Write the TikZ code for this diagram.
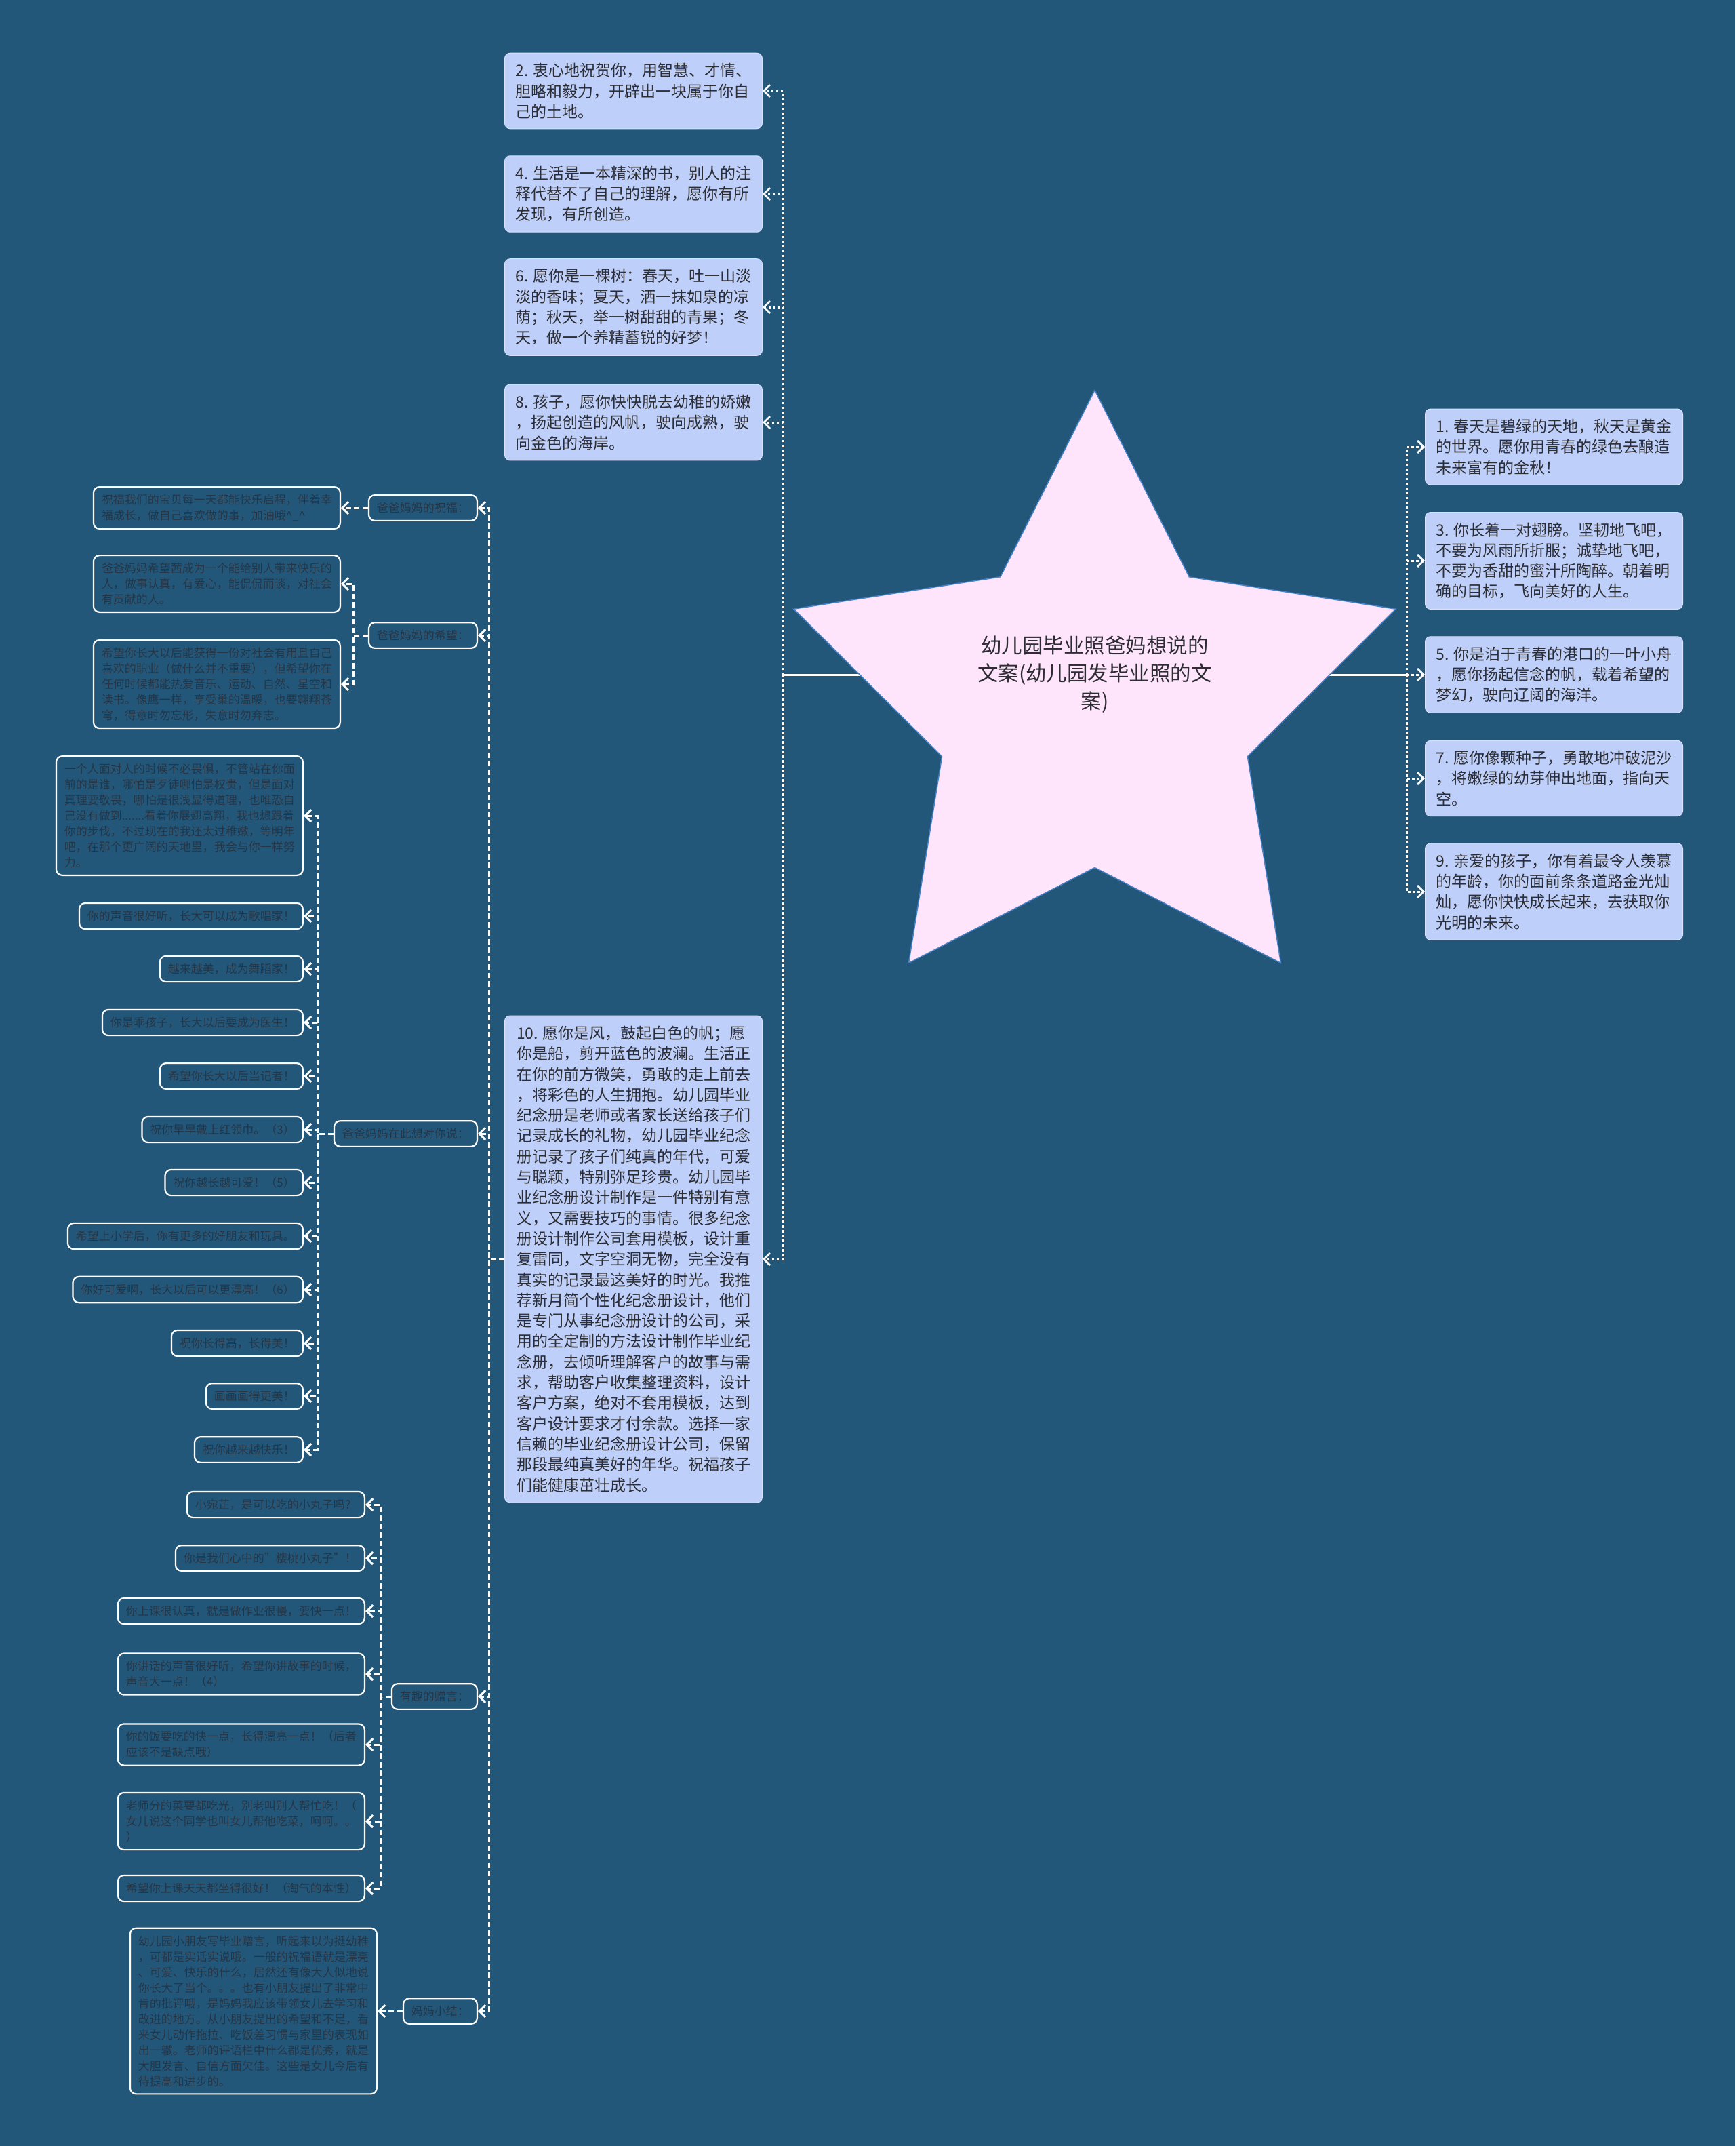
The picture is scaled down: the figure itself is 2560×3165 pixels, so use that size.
\documentclass[tikz,border=0pt]{standalone}
\usepackage{fontspec}
\setmainfont{Noto Sans CJK SC}
\usetikzlibrary{arrows.meta}
\definecolor{bg}{RGB}{35,87,122}
\definecolor{lfill}{RGB}{190,208,250}
\definecolor{ledge}{RGB}{215,226,252}
\definecolor{ltext}{RGB}{45,45,52}
\definecolor{dtext}{RGB}{38,54,70}
\definecolor{starfill}{RGB}{255,229,252}
\definecolor{staredge}{RGB}{70,130,200}
\pgfdeclarelayer{back}
\pgfsetlayers{back,main}
\begin{document}
\begin{tikzpicture}[x=1pt,y=-1pt,
  lbox/.style={draw=ledge, line width=1pt, fill=lfill, rounded corners=8pt,
    inner xsep=15pt, inner ysep=15pt, minimum width=380pt, align=left,
    text=ltext, font=\fontsize{23}{30.3}\selectfont},
  dbox/.style={draw=white, line width=2.2pt, fill=bg, rounded corners=9pt,
    inner xsep=12pt, inner ysep=11pt, align=left, text=dtext,
    font=\fontsize{17}{23}\selectfont},
  rootlbl/.style={align=center, text=ltext, font=\fontsize{30.5}{41}\selectfont},
  lev1/.style={draw=white, line width=3pt, dash pattern=on 3.5pt off 3.5pt,
    -{Straight Barb[length=9pt,width=18pt,line width=2.8pt]}},
  lev2/.style={draw=white, line width=3pt, dash pattern=on 8pt off 4.5pt,
    -{Straight Barb[length=9pt,width=18pt,line width=3pt]}},
  rootline/.style={draw=white, line width=3pt}
]
\useasboundingbox (0,0) rectangle (2560,3165);

% root
\node[rootlbl] (root) at (1615,995) {幼儿园毕业照爸妈想说的\\文案(幼儿园发毕业照的文\\案)};
\coordinate (jL) at (1155,995);
\coordinate (jR) at (2075,995);

\begin{pgfonlayer}{back}
  \fill[bg] (0,0) rectangle (2560,3165);
  \draw[rootline] (root.center) -- (jL);
  \draw[rootline] (root.center) -- (jR);
  \filldraw[fill=starfill, draw=staredge, line width=1.5pt]
    (1615,575.5) -- (1754.3,850.8) -- (2059.1,898.2) -- (1840.4,1115.7)
    -- (1889.5,1420.3) -- (1615,1279.5) -- (1340.5,1420.3) -- (1389.6,1115.7)
    -- (1170.9,898.2) -- (1475.7,850.8) -- cycle;
\end{pgfonlayer}

% top-middle column
\node[lbox,anchor=east] (b2) at (1125,134) {2. 衷心地祝贺你，用智慧、才情、\\胆略和毅力，开辟出一块属于你自\\己的土地。};
\node[lbox,anchor=east] (b4) at (1125,286) {4. 生活是一本精深的书，别人的注\\释代替不了自己的理解，愿你有所\\发现，有所创造。};
\node[lbox,anchor=east] (b6) at (1125,453) {6. 愿你是一棵树：春天，吐一山淡\\淡的香味；夏天，洒一抹如泉的凉\\荫；秋天，举一树甜甜的青果；冬\\天，做一个养精蓄锐的好梦！};
\node[lbox,anchor=east] (b8) at (1125,623) {8. 孩子，愿你快快脱去幼稚的娇嫩\\，扬起创造的风帆，驶向成熟，驶\\向金色的海岸。};
\node[lbox,anchor=east] (b10) at (1125,1857) {10. 愿你是风，鼓起白色的帆；愿\\你是船，剪开蓝色的波澜。生活正\\在你的前方微笑，勇敢的走上前去\\，将彩色的人生拥抱。幼儿园毕业\\纪念册是老师或者家长送给孩子们\\记录成长的礼物，幼儿园毕业纪念\\册记录了孩子们纯真的年代，可爱\\与聪颖，特别弥足珍贵。幼儿园毕\\业纪念册设计制作是一件特别有意\\义，又需要技巧的事情。很多纪念\\册设计制作公司套用模板，设计重\\复雷同，文字空洞无物，完全没有\\真实的记录最这美好的时光。我推\\荐新月简个性化纪念册设计，他们\\是专门从事纪念册设计的公司，采\\用的全定制的方法设计制作毕业纪\\念册，去倾听理解客户的故事与需\\求，帮助客户收集整理资料，设计\\客户方案，绝对不套用模板，达到\\客户设计要求才付余款。选择一家\\信赖的毕业纪念册设计公司，保留\\那段最纯真美好的年华。祝福孩子\\们能健康茁壮成长。};

% right column
\node[lbox,anchor=west] (r1) at (2102,659) {1. 春天是碧绿的天地，秋天是黄金\\的世界。愿你用青春的绿色去酿造\\未来富有的金秋！};
\node[lbox,anchor=west] (r3) at (2102,827) {3. 你长着一对翅膀。坚韧地飞吧，\\不要为风雨所折服；诚挚地飞吧，\\不要为香甜的蜜汁所陶醉。朝着明\\确的目标，飞向美好的人生。};
\node[lbox,anchor=west] (r5) at (2102,995) {5. 你是泊于青春的港口的一叶小舟\\，愿你扬起信念的帆，载着希望的\\梦幻，驶向辽阔的海洋。};
\node[lbox,anchor=west] (r7) at (2102,1148) {7. 愿你像颗种子，勇敢地冲破泥沙\\，将嫩绿的幼芽伸出地面，指向天\\空。};
\node[lbox,anchor=west] (r9) at (2102,1315) {9. 亲爱的孩子，你有着最令人羡慕\\的年龄，你的面前条条道路金光灿\\灿，愿你快快成长起来，去获取你\\光明的未来。};

\foreach \n in {b2,b4,b6,b8,b10} \draw[lev1] (jL) |- (\n.east);
\foreach \n in {r1,r3,r5,r7,r9} \draw[lev1] (jR) |- (\n.west);

% categories
\node[dbox,anchor=east] (c1) at (705,749) {爸爸妈妈的祝福：};
\node[dbox,anchor=east] (c2) at (705,937) {爸爸妈妈的希望：};
\node[dbox,anchor=east] (c3) at (705,1672) {爸爸妈妈在此想对你说：};
\node[dbox,anchor=east] (c4) at (705,2502) {有趣的赠言：};
\node[dbox,anchor=east] (c5) at (705,2966) {妈妈小结：};

\coordinate (s10) at (721,0);
\foreach \n in {c1,c2,c3,c4,c5} \draw[lev2] (b10.west) -- (s10 |- b10.west) |- (\n.east);

% children of c1
\node[dbox,anchor=east] (k1) at (503,749) {祝福我们的宝贝每一天都能快乐启程，伴着幸\\福成长，做自己喜欢做的事，加油哦\textasciicircum\_\textasciicircum};
\draw[lev2] (c1.west) -- (k1.east);

% children of c2
\node[dbox,anchor=east] (h1) at (503,861) {爸爸妈妈希望茜成为一个能给别人带来快乐的\\人，做事认真，有爱心，能侃侃而谈，对社会\\有贡献的人。};
\node[dbox,anchor=east] (h2) at (503,1009) {希望你长大以后能获得一份对社会有用且自己\\喜欢的职业（做什么并不重要），但希望你在\\任何时候都能热爱音乐、运动、自然、星空和\\读书。像鹰一样，享受巢的温暖，也要翱翔苍\\穹，得意时勿忘形，失意时勿弃志。};
\coordinate (s2) at (521,0);
\foreach \n in {h1,h2} \draw[lev2] (c2.west) -- (s2 |- c2.west) |- (\n.east);

% children of c3
\node[dbox,anchor=east] (z1) at (448,1203) {一个人面对人的时候不必畏惧，不管站在你面\\前的是谁，哪怕是歹徒哪怕是权贵，但是面对\\真理要敬畏，哪怕是很浅显得道理，也唯恐自\\己没有做到.......看着你展翅高翔，我也想跟着\\你的步伐，不过现在的我还太过稚嫩，等明年\\吧，在那个更广阔的天地里，我会与你一样努\\力。};
\node[dbox,anchor=east] (z2) at (448,1351) {你的声音很好听，长大可以成为歌唱家！};
\node[dbox,anchor=east] (z3) at (448,1429) {越来越美，成为舞蹈家！};
\node[dbox,anchor=east] (z4) at (448,1508) {你是乖孩子，长大以后要成为医生！};
\node[dbox,anchor=east] (z5) at (448,1587) {希望你长大以后当记者！};
\node[dbox,anchor=east] (z6) at (448,1666) {祝你早早戴上红领巾。（3）};
\node[dbox,anchor=east] (z7) at (448,1744) {祝你越长越可爱！（5）};
\node[dbox,anchor=east] (z8) at (448,1823) {希望上小学后，你有更多的好朋友和玩具。};
\node[dbox,anchor=east] (z9) at (448,1902) {你好可爱啊，长大以后可以更漂亮！（6）};
\node[dbox,anchor=east] (z10) at (448,1981) {祝你长得高，长得美！};
\node[dbox,anchor=east] (z11) at (448,2059) {画画画得更美！};
\node[dbox,anchor=east] (z12) at (448,2138) {祝你越来越快乐！};
\coordinate (s3) at (468,0);
\foreach \i in {1,...,12} \draw[lev2] (c3.west) -- (s3 |- c3.west) |- (z\i.east);

% children of c4
\node[dbox,anchor=east] (y1) at (539,2219) {小宛芷，是可以吃的小丸子吗？};
\node[dbox,anchor=east] (y2) at (539,2298) {你是我们心中的"樱桃小丸子"！};
\node[dbox,anchor=east] (y3) at (539,2376) {你上课很认真，就是做作业很慢，要快一点！};
\node[dbox,anchor=east] (y4) at (539,2469) {你讲话的声音很好听，希望你讲故事的时候，\\声音大一点！（4）};
\node[dbox,anchor=east] (y5) at (539,2573) {你的饭要吃的快一点，长得漂亮一点！（后者\\应该不是缺点哦）};
\node[dbox,anchor=east] (y6) at (539,2686) {老师分的菜要都吃光，别老叫别人帮忙吃！（\\女儿说这个同学也叫女儿帮他吃菜，呵呵。。\\）};
\node[dbox,anchor=east] (y7) at (539,2785) {希望你上课天天都坐得很好！（淘气的本性）};
\coordinate (s4) at (561,0);
\foreach \i in {1,...,7} \draw[lev2] (c4.west) -- (s4 |- c4.west) |- (y\i.east);

% child of c5
\node[dbox,anchor=east] (m1) at (557,2966) {幼儿园小朋友写毕业赠言，听起来以为挺幼稚\\，可都是实话实说哦。一般的祝福语就是漂亮\\、可爱、快乐的什么，居然还有像大人似地说\\你长大了当个。。。也有小朋友提出了非常中\\肯的批评哦，是妈妈我应该带领女儿去学习和\\改进的地方。从小朋友提出的希望和不足，看\\来女儿动作拖拉、吃饭差习惯与家里的表现如\\出一辙。老师的评语栏中什么都是优秀，就是\\大胆发言、自信方面欠佳。这些是女儿今后有\\待提高和进步的。};
\draw[lev2] (c5.west) -- (m1.east);
\end{tikzpicture}
\end{document}
